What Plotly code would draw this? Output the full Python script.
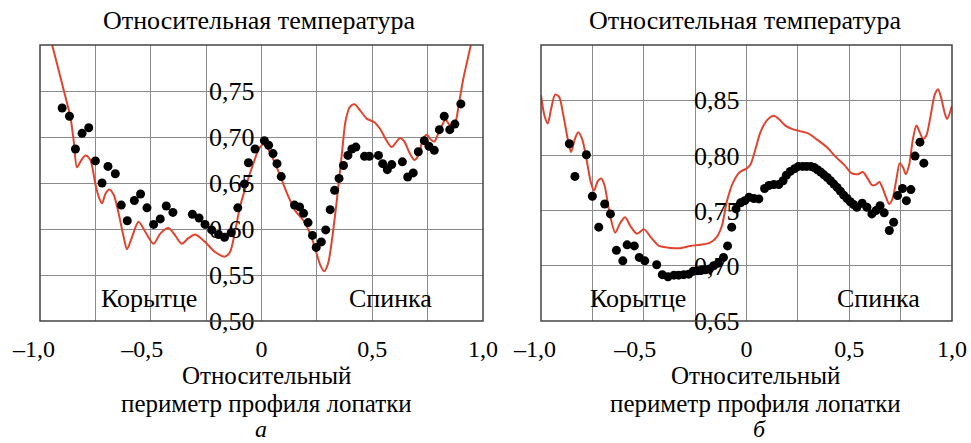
import plotly.graph_objects as go

# ---------------- data: panel a ----------------
a_line_x = [-0.96, -0.945, -0.893, -0.863, -0.848, -0.833, -0.818, -0.795, -0.773, -0.75,
            -0.735, -0.72, -0.705, -0.687, -0.667, -0.645, -0.622, -0.607, -0.585, -0.555,
            -0.525, -0.487, -0.457, -0.42, -0.39, -0.36, -0.33, -0.30, -0.255, -0.21,
            -0.164, -0.142, -0.119, -0.097, -0.067, -0.037, -0.007, 0.015, 0.04, 0.062,
            0.092, 0.122, 0.152, 0.19, 0.22, 0.242, 0.265, 0.283, 0.30, 0.318,
            0.34, 0.363, 0.38, 0.40, 0.42, 0.445, 0.475, 0.51, 0.535, 0.565,
            0.588, 0.61, 0.625, 0.645, 0.666, 0.69, 0.708, 0.73, 0.746, 0.765,
            0.78, 0.795, 0.816, 0.831, 0.85, 0.873, 0.891, 0.91, 0.933, 0.945, 0.96]
a_line_y = [0.815, 0.800, 0.751, 0.722, 0.696, 0.667, 0.673, 0.680, 0.675, 0.649,
            0.635, 0.628, 0.638, 0.643, 0.637, 0.617, 0.591, 0.578, 0.591, 0.608,
            0.597, 0.584, 0.595, 0.601, 0.593, 0.584, 0.590, 0.594, 0.586, 0.575,
            0.570, 0.575, 0.598, 0.624, 0.649, 0.671, 0.689, 0.692, 0.682, 0.671,
            0.653, 0.635, 0.620, 0.609, 0.595, 0.579, 0.561, 0.554, 0.562, 0.588,
            0.631, 0.682, 0.718, 0.733, 0.7355, 0.729, 0.720, 0.716, 0.709, 0.696,
            0.689, 0.695, 0.699, 0.695, 0.684, 0.675, 0.680, 0.698, 0.7025, 0.697,
            0.695, 0.702, 0.713, 0.719, 0.713, 0.715, 0.736, 0.762, 0.787, 0.800, 0.82]

a_dots_x = [-0.90, -0.867, -0.84, -0.81, -0.78, -0.75, -0.72, -0.693, -0.66, -0.633,
            -0.606, -0.574, -0.546, -0.517, -0.487, -0.457, -0.43, -0.40, -0.312, -0.282,
            -0.255, -0.225, -0.194, -0.167, -0.137, -0.107, -0.077, -0.059, -0.029, 0.013,
            0.032, 0.052, 0.07, 0.089, 0.149, 0.172, 0.19, 0.21, 0.23, 0.247,
            0.27, 0.29, 0.31, 0.33, 0.35, 0.37, 0.39, 0.408, 0.426, 0.465,
            0.487, 0.528, 0.547, 0.568, 0.588, 0.636, 0.66, 0.685, 0.708, 0.735,
            0.756, 0.78, 0.803, 0.825, 0.85, 0.873, 0.90]
a_dots_y = [0.7315, 0.7225, 0.687, 0.704, 0.710, 0.674, 0.650, 0.668, 0.660, 0.626,
            0.609, 0.631, 0.638, 0.623, 0.605, 0.611, 0.625, 0.618, 0.616, 0.612,
            0.605, 0.599, 0.594, 0.591, 0.596, 0.623, 0.649, 0.672, 0.687, 0.696,
            0.691, 0.682, 0.671, 0.657, 0.626, 0.624, 0.617, 0.607, 0.593, 0.580,
            0.586, 0.599, 0.621, 0.642, 0.655, 0.669, 0.680, 0.687, 0.689, 0.679,
            0.679, 0.680, 0.671, 0.6645, 0.670, 0.673, 0.6565, 0.661, 0.684, 0.696,
            0.690, 0.6855, 0.708, 0.7225, 0.708, 0.714, 0.736]

# ---------------- data: panel b ----------------
b_line_x = [-1.0, -0.983, -0.967, -0.951, -0.931, -0.912, -0.891, -0.87, -0.854, -0.835,
            -0.819, -0.80, -0.779, -0.758, -0.742, -0.723, -0.707, -0.691, -0.667, -0.639,
            -0.614, -0.591, -0.565, -0.533, -0.498, -0.466, -0.426, -0.402, -0.353, -0.321,
            -0.273, -0.225, -0.177, -0.145, -0.12, -0.096, -0.064, -0.032, 0.0, 0.02,
            0.044, 0.068, 0.10, 0.133, 0.157, 0.189, 0.221, 0.261, 0.30, 0.342,
            0.39, 0.438, 0.478, 0.51, 0.542, 0.566, 0.59, 0.611, 0.63, 0.647,
            0.663, 0.679, 0.695, 0.711, 0.73, 0.746, 0.762, 0.775, 0.791, 0.81,
            0.827, 0.843, 0.859, 0.875, 0.896, 0.916, 0.932, 0.948, 0.965, 0.976, 1.0]
b_line_y = [0.8545, 0.836, 0.829, 0.842, 0.855, 0.853, 0.836, 0.815, 0.803, 0.815,
            0.821, 0.815, 0.797, 0.776, 0.768, 0.777, 0.779, 0.773, 0.7485, 0.730,
            0.739, 0.744, 0.736, 0.729, 0.733, 0.726, 0.718, 0.717, 0.716, 0.716,
            0.718, 0.719, 0.721, 0.726, 0.736, 0.758, 0.776, 0.785, 0.788, 0.792,
            0.806, 0.821, 0.832, 0.836, 0.833, 0.827, 0.824, 0.822, 0.820, 0.8145,
            0.8076, 0.798, 0.791, 0.784, 0.783, 0.785, 0.779, 0.773, 0.7735, 0.776,
            0.770, 0.762, 0.756, 0.761, 0.779, 0.793, 0.789, 0.783, 0.791, 0.815,
            0.827, 0.821, 0.815, 0.818, 0.836, 0.855, 0.860, 0.8515, 0.838, 0.833, 0.845]

b_dots_x = [-0.862, -0.835, -0.779, -0.75, -0.719, -0.69, -0.662, -0.633, -0.602, -0.581,
            -0.546, -0.522, -0.495, -0.437, -0.41, -0.382, -0.353, -0.33, -0.305, -0.281,
            -0.26, -0.24, -0.217, -0.2, -0.18, -0.16, -0.137, -0.112, -0.092, -0.072,
            -0.051, -0.029, -0.008, 0.012, 0.036, 0.06, 0.088, 0.109, 0.133, 0.157,
            0.178, 0.194, 0.213, 0.234, 0.253, 0.274, 0.293, 0.313, 0.329, 0.345,
            0.361, 0.377, 0.393, 0.409, 0.425, 0.441, 0.457, 0.473, 0.489, 0.505,
            0.521, 0.537, 0.563, 0.586, 0.61, 0.63, 0.65, 0.67, 0.695, 0.716,
            0.735, 0.759, 0.778, 0.80, 0.82, 0.844, 0.863]
b_dots_y = [0.8106, 0.781, 0.8006, 0.763, 0.735, 0.756, 0.747, 0.714, 0.7045, 0.719,
            0.718, 0.7076, 0.7045, 0.701, 0.692, 0.690, 0.6915, 0.6915, 0.692, 0.6924,
            0.695, 0.6955, 0.6964, 0.6964, 0.697, 0.700, 0.7024, 0.7076, 0.718, 0.735,
            0.7515, 0.757, 0.759, 0.762, 0.761, 0.7606, 0.770, 0.7727, 0.7736, 0.7736,
            0.777, 0.782, 0.7855, 0.788, 0.790, 0.790, 0.790, 0.790, 0.789, 0.787,
            0.785, 0.7824, 0.780, 0.777, 0.774, 0.771, 0.7676, 0.764, 0.761, 0.758,
            0.7555, 0.753, 0.7567, 0.753, 0.747, 0.750, 0.7545, 0.748, 0.732, 0.7394,
            0.7636, 0.770, 0.759, 0.769, 0.7994, 0.812, 0.793]

# ticks / labels
x_tickvals = [-1.0, -0.75, -0.5, -0.25, 0.0, 0.25, 0.5, 0.75, 1.0]
x_ticktext = ["\u20131,0\u2002", "", "\u20130,5\u2002\u2009", "", "0", "", "0,5", "", "1,0"]
a_yticks = [0.50, 0.55, 0.60, 0.65, 0.70, 0.75]
a_yticktext = ["0,50", "0,55", "0,60", "0,65", "0,70", "0,75"]
b_yticks = [0.65, 0.70, 0.75, 0.80, 0.85]
b_yticktext = ["0,65", "0,70", "0,75", "0,80", "0,85"]
y_title = "Относительная температура"
x_title_lines = ["Относительный", "периметр профиля лопатки"]
region_labels = ["Корытце", "Спинка"]
panel_letters = ["а", "б"]

W, H = 971, 443
FONT = "Liberation Serif"
RED = "#e2432d"
GRID = "#8a8a8a"
TXT = "#000000"

fig = go.Figure()
fig.add_trace(go.Scatter(x=a_line_x, y=a_line_y, mode="lines",
                         line=dict(color=RED, width=2, shape="spline", smoothing=0.8),
                         xaxis="x", yaxis="y", showlegend=False))
fig.add_trace(go.Scatter(x=a_dots_x, y=a_dots_y, mode="markers",
                         marker=dict(color="black", size=9),
                         xaxis="x", yaxis="y", showlegend=False, cliponaxis=False))
fig.add_trace(go.Scatter(x=b_line_x, y=b_line_y, mode="lines",
                         line=dict(color=RED, width=2, shape="spline", smoothing=0.8),
                         xaxis="x2", yaxis="y2", showlegend=False))
fig.add_trace(go.Scatter(x=b_dots_x, y=b_dots_y, mode="markers",
                         marker=dict(color="black", size=9),
                         xaxis="x2", yaxis="y2", showlegend=False, cliponaxis=False))

dom_a = [40 / W, 483 / W]
dom_b = [541 / W, 952 / W]
ydom = [(H - 321) / H, (H - 45) / H]

xcommon = dict(range=[-1, 1], tickvals=x_tickvals, ticktext=x_ticktext,
               showgrid=True, gridcolor=GRID, gridwidth=1.3, zeroline=False,
               showline=False, ticks="", tickfont=dict(family=FONT, size=24, color=TXT),
               ticklabelstandoff=11, fixedrange=True, automargin=False)
ycommon = dict(showgrid=True, gridcolor=GRID, gridwidth=1.3, zeroline=False,
               showline=False, ticks="", tickfont=dict(family=FONT, size=26, color=TXT),
               anchor="free", ticklabelstandoff=7, fixedrange=True, automargin=False)

fig.update_layout(
    width=W, height=H, margin=dict(l=0, r=0, t=0, b=0, autoexpand=False),
    paper_bgcolor="white", plot_bgcolor="white",
    xaxis=dict(domain=dom_a, anchor="y", **xcommon),
    xaxis2=dict(domain=dom_b, anchor="y2", **xcommon),
    yaxis=dict(domain=ydom, range=[0.5, 0.8], tickvals=a_yticks, ticktext=a_yticktext,
               position=(dom_a[0] + dom_a[1]) / 2, **ycommon),
    yaxis2=dict(domain=ydom, range=[0.65, 0.9], tickvals=b_yticks, ticktext=b_yticktext,
                position=(dom_b[0] + dom_b[1]) / 2, **ycommon),
    showlegend=False,
)

# frames
for xr, yr in (("x domain", "y domain"), ("x2 domain", "y2 domain")):
    fig.add_shape(type="rect", xref=xr, yref=yr, x0=0, x1=1, y0=0, y1=1,
                  line=dict(color="#444", width=1.5), layer="above")

tfont = dict(family=FONT, size=25, color=TXT)
line_dx = [4.5, 9]
letter_dx = [-0.5, 13]
for i, dom in enumerate((dom_a, dom_b)):
    cx = (dom[0] + dom[1]) / 2
    fig.add_annotation(text=y_title, xref="paper", yref="paper", x=cx - 2 / W, y=(H - 21) / H,
                       showarrow=False, font=dict(family=FONT, size=26, color=TXT),
                       xanchor="center", yanchor="middle")
    fig.add_annotation(text=x_title_lines[0], xref="paper", yref="paper", x=cx + line_dx[i] / W,
                       y=(H - 375.5) / H, showarrow=False, font=tfont,
                       xanchor="center", yanchor="middle")
    fig.add_annotation(text=x_title_lines[1], xref="paper", yref="paper", x=cx + line_dx[i] / W,
                       y=(H - 403) / H, showarrow=False, font=tfont,
                       xanchor="center", yanchor="middle")
    fig.add_annotation(text="<i>" + panel_letters[i] + "</i>", xref="paper", yref="paper",
                       x=cx + letter_dx[i] / W, y=(H - 429) / H,
                       showarrow=False, font=dict(family=FONT, size=24, color=TXT),
                       xanchor="center", yanchor="middle")

lab_pos = [((-0.507, 0.525), (0.581, 0.525)), ((-0.527, 0.6706), (0.643, 0.6706))]
for i, (xr, yr) in enumerate((("x", "y"), ("x2", "y2"))):
    for j, lab in enumerate(region_labels):
        px, py = lab_pos[i][j]
        fig.add_annotation(text=lab, xref=xr, yref=yr, x=px, y=py, showarrow=False,
                           font=dict(family=FONT, size=26, color=TXT),
                           xanchor="center", yanchor="middle")

fig.write_html("out.html")
